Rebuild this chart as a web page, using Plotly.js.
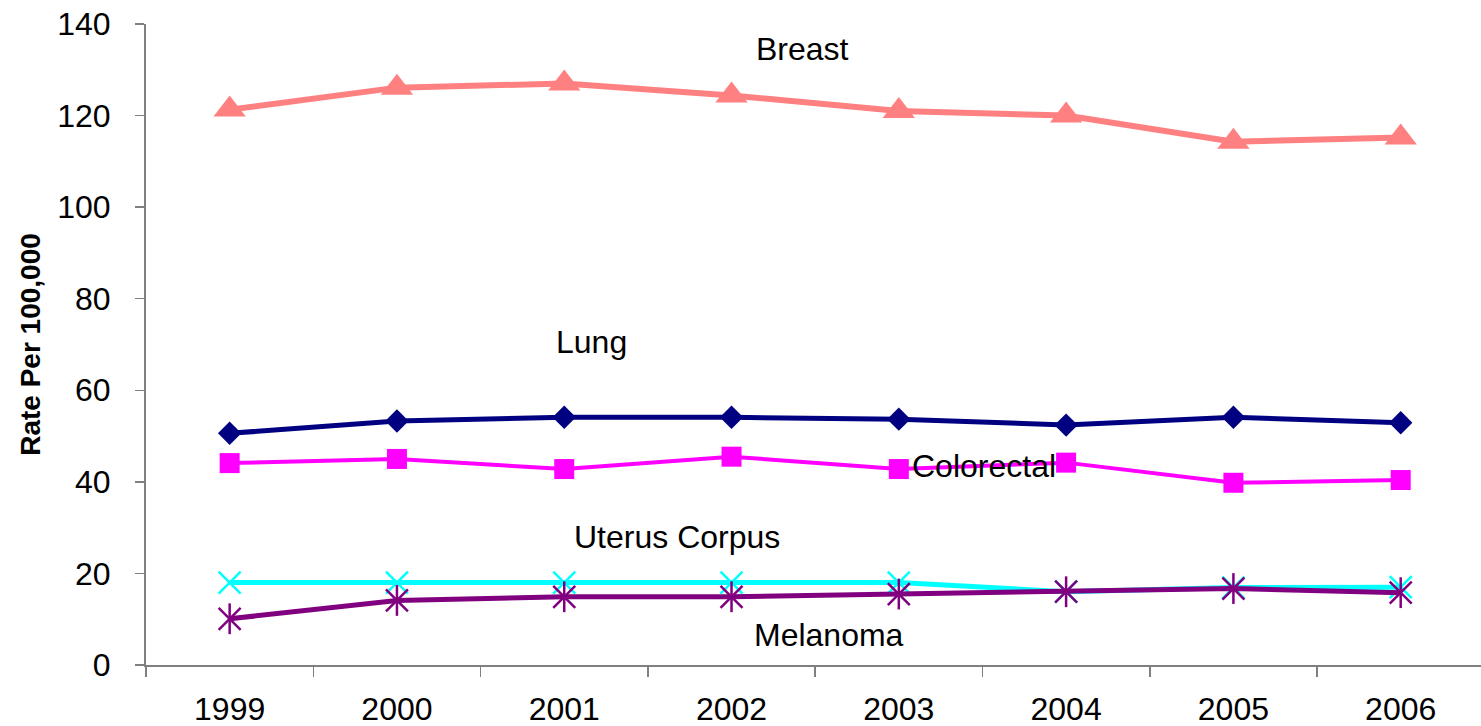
<!DOCTYPE html>
<html>
<head>
<meta charset="utf-8">
<script src="https://cdn.plot.ly/plotly-3.0.1.min.js"></script>
<style>html,body{margin:0;padding:0;background:#fff;}#chart{width:1481px;height:726px;}</style>
</head>
<body>
<div id="chart"></div>
<script>
const years = ["1999","2000","2001","2002","2003","2004","2005","2006"];
const breast = [121.3, 126.1, 127.0, 124.4, 121.0, 120.0, 114.3, 115.2];
const lung = [50.6, 53.3, 54.1, 54.1, 53.7, 52.4, 54.1, 52.9];
const colorectal = [44.1, 45.0, 42.8, 45.5, 42.8, 44.2, 39.8, 40.4];
const uterus = [18.0, 18.0, 18.0, 18.0, 18.0, 16.0, 16.9, 17.0];
const melanoma = [10.1, 14.1, 14.9, 14.9, 15.5, 16.0, 16.7, 15.8];
const seriesLabels = ["Breast", "Lung", "Colorectal", "Uterus Corpus", "Melanoma"];

const fontFam = '"Liberation Sans", Arial, sans-serif';

const traces = [
  {name:seriesLabels[0], x:years, y:breast, mode:'lines+markers',
   line:{color:'#FF8080', width:6}, marker:{symbol:'triangle-up', size:28, color:'#FF8080'}},
  {name:seriesLabels[1], x:years, y:lung, mode:'lines+markers',
   line:{color:'#000080', width:5}, marker:{symbol:'diamond', size:18, color:'#000080'}},
  {name:seriesLabels[2], x:years, y:colorectal, mode:'lines+markers',
   line:{color:'#FF00FF', width:4}, marker:{symbol:'square', size:20, color:'#FF00FF'}},
  {name:seriesLabels[3], x:years, y:uterus, mode:'lines+markers',
   line:{color:'#00FFFF', width:5}, marker:{symbol:'x-thin-open', size:22, color:'#00FFFF', line:{color:'#00FFFF', width:2.5}}},
  {name:seriesLabels[4], x:years, y:melanoma, mode:'lines+markers',
   line:{color:'#800080', width:5}, marker:{symbol:'x-thin-open', size:22, color:'#800080', line:{color:'#800080', width:2.5}}},
  {name:seriesLabels[4], x:years, y:melanoma, mode:'markers', hoverinfo:'skip',
   marker:{symbol:'line-ns-open', size:22, color:'#800080', line:{color:'#800080', width:2.5}}}
];

const labelFont = {family:fontFam, size:32, color:'#000'};
const layout = {
  width:1481, height:726,
  margin:{l:146, r:0, t:24, b:61},
  paper_bgcolor:'#fff', plot_bgcolor:'#fff',
  showlegend:false,
  xaxis:{type:'category', range:[-0.5, 7.48], tickson:'boundaries', ticks:'outside', ticklen:10, tickwidth:1.5, tickcolor:'#808080',
         showline:true, linecolor:'#808080', linewidth:2, showgrid:false, zeroline:false,
         tickfont:labelFont, ticklabelstandoff:15, automargin:false},
  yaxis:{range:[0,140], tickvals:[0,20,40,60,80,100,120,140], ticks:'outside', ticklen:9, tickwidth:1.5, tickcolor:'#808080',
         showline:true, linecolor:'#808080', linewidth:2, showgrid:false, zeroline:false,
         tickfont:labelFont, ticklabelstandoff:18, automargin:false,
         title:{text:'<b>Rate Per 100,000</b>', font:{family:fontFam, size:28, color:'#000'}, standoff:8}},
  annotations:[
    {text:seriesLabels[0], x:3, y:134.5, xref:'x', yref:'y', xshift:71, showarrow:false, font:labelFont},
    {text:seriesLabels[1], x:2, y:70.5, xref:'x', yref:'y', xshift:27, showarrow:false, font:labelFont},
    {text:seriesLabels[2], x:4, y:43.5, xref:'x', yref:'y', xshift:85, showarrow:false, font:labelFont},
    {text:seriesLabels[3], x:2, y:28, xref:'x', yref:'y', xshift:113, showarrow:false, font:labelFont},
    {text:seriesLabels[4], x:3, y:6.5, xref:'x', yref:'y', xshift:97, showarrow:false, font:labelFont}
  ]
};

Plotly.newPlot('chart', traces, layout, {displayModeBar:false, staticPlot:true});
</script>
</body>
</html>
